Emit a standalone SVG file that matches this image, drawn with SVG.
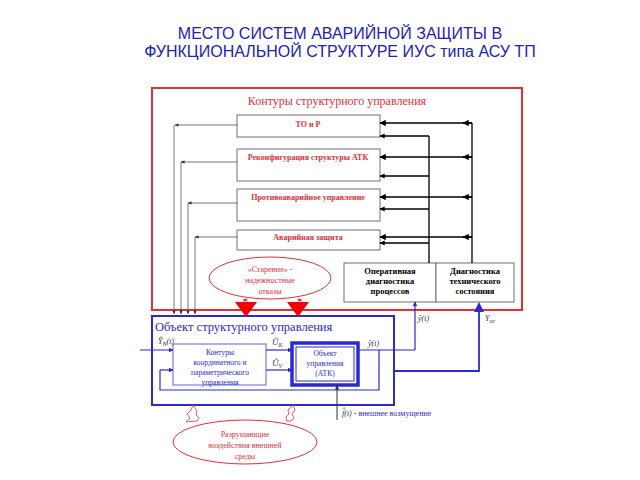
<svg xmlns="http://www.w3.org/2000/svg" width="640" height="480" viewBox="0 0 640 480">
<defs>
<style>
.t{font-family:"Liberation Serif",serif}
.red{fill:#e0303a}
.blu{fill:#2a2ad0}
.box{fill:#fff;stroke:#707070;stroke-width:1}
.k{stroke:#000;fill:none}
.g{stroke:#555;fill:none;stroke-width:0.8}
.b{stroke:#2a2ad0;fill:none;stroke-width:1.2}
</style>
<marker id="ak" viewBox="0 0 10 10" refX="9" refY="5" markerWidth="4" markerHeight="4" orient="auto"><path d="M0,0L10,5L0,10z" fill="#000"/></marker>
<marker id="as" viewBox="0 0 10 10" refX="9" refY="5" markerWidth="5" markerHeight="5" orient="auto"><path d="M0,1L10,5L0,9z" fill="#333"/></marker>
<marker id="ab" viewBox="0 0 10 10" refX="9" refY="5" markerWidth="4" markerHeight="4" orient="auto"><path d="M0,0L10,5L0,10z" fill="#2a2ad0"/></marker>
</defs>
<g id="title" fill="#2222b8" font-family="Liberation Sans,sans-serif" font-size="16" text-anchor="middle">
<text x="340" y="39">МЕСТО СИСТЕМ АВАРИЙНОЙ ЗАЩИТЫ В</text>
<text x="340" y="57">ФУНКЦИОНАЛЬНОЙ СТРУКТУРЕ ИУС типа АСУ ТП</text>
</g>
<g id="red-frame">
<rect x="152" y="88" width="370" height="222" fill="#fff" stroke="#e03038" stroke-width="2"/>
<text class="t red" x="337" y="105" font-size="12" text-anchor="middle">Контуры структурного управления</text>
</g>
<g id="n-tor"><rect class="box" x="237" y="115" width="143" height="22"/><text class="t red" x="308" y="127" font-size="8" font-weight="bold" text-anchor="middle">ТО и Р</text></g>
<g id="n-rekonf"><rect class="box" x="237" y="149" width="143" height="32"/><text class="t red" x="308" y="160" font-size="8" font-weight="bold" text-anchor="middle">Реконфигурация структуры АТК</text></g>
<g id="n-protiv"><rect class="box" x="237" y="189" width="143" height="32"/><text class="t red" x="308" y="200" font-size="8" font-weight="bold" text-anchor="middle">Противоаварийное управление</text></g>
<g id="n-avar"><rect class="box" x="237" y="230" width="143" height="20"/><text class="t red" x="308" y="240" font-size="8" font-weight="bold" text-anchor="middle">Аварийная защита</text></g>
<g id="n-oper"><rect class="box" x="344" y="263" width="92" height="39"/><text class="t" x="390" y="274" font-size="8.5" font-weight="bold" text-anchor="middle"><tspan x="390">Оперативная</tspan><tspan x="390" dy="10">диагностика</tspan><tspan x="390" dy="10">процессов</tspan></text></g>
<g id="n-diag"><rect class="box" x="436" y="263" width="78" height="39"/><text class="t" x="475" y="274" font-size="8.5" font-weight="bold" text-anchor="middle"><tspan x="475">Диагностика</tspan><tspan x="475" dy="10">технического</tspan><tspan x="475" dy="10">состояния</tspan></text></g>
<g id="n-starenie"><ellipse cx="270" cy="278" rx="61" ry="21" fill="#fff" stroke="#e03038"/><text class="t red" x="270" y="272" font-size="8" text-anchor="middle"><tspan x="270">«Старение» -</tspan><tspan x="270" dy="11">надежностные</tspan><tspan x="270" dy="11">отказы</tspan></text></g>
<g id="n-blue-frame"><rect x="152" y="316" width="242" height="89" fill="#fff" stroke="#2a2ad0" stroke-width="2"/><text class="t blu" x="155" y="331" font-size="12.5">Объект структурного управления</text></g>
<g id="n-kontury"><rect x="173" y="344" width="93" height="41" fill="#fff" stroke="#6060e0" stroke-width="1"/><text class="t blu" x="220" y="355" font-size="7.5" text-anchor="middle"><tspan x="220">Контуры</tspan><tspan x="220" dy="10">координатного и</tspan><tspan x="220" dy="10">параметрического</tspan><tspan x="220" dy="10">управления</tspan></text></g>
<g id="n-object"><rect x="292" y="343" width="66" height="42" fill="#fff" stroke="#2a2ad0" stroke-width="3.5"/><rect x="296" y="347" width="58" height="34" fill="#fff" stroke="#2a2ad0" stroke-width="1"/><text class="t blu" x="325" y="356" font-size="7.5" text-anchor="middle"><tspan x="325">Объект</tspan><tspan x="325" dy="10">управления</tspan><tspan x="325" dy="10">(АТК)</tspan></text></g>
<g id="n-razr"><ellipse cx="245" cy="442" rx="72" ry="22" fill="#fff" stroke="#e03038"/><text class="t red" x="245" y="437" font-size="8" text-anchor="middle"><tspan x="245">Разрушающие</tspan><tspan x="245" dy="11">воздействия внешней</tspan><tspan x="245" dy="11">среды</tspan></text></g>
<g id="connectors">
<path class="k" stroke-width="1.3" d="M472,123V263M429,136V263"/>
<path class="k" stroke-width="1.6" marker-end="url(#ak)" d="M472,123H380"/>
<path class="k" stroke-width="1.6" marker-end="url(#ak)" d="M472,157H380"/>
<path class="k" stroke-width="1.6" marker-end="url(#ak)" d="M472,197H380"/>
<path class="k" stroke-width="1.6" marker-end="url(#ak)" d="M472,237H380"/>
<path class="k" stroke-width="1.6" marker-end="url(#ak)" d="M472,123H463"/>
<path class="k" stroke-width="1.6" marker-end="url(#ak)" d="M472,157H463"/>
<path class="k" stroke-width="1.6" marker-end="url(#ak)" d="M472,197H463"/>
<path class="k" stroke-width="1.6" marker-end="url(#ak)" d="M472,237H463"/>
<path class="k" stroke-width="1.3" marker-end="url(#ak)" d="M429,136H380"/>
<path class="k" stroke-width="1.3" marker-end="url(#ak)" d="M429,176H380"/>
<path class="k" stroke-width="1.3" marker-end="url(#ak)" d="M429,209H380"/>
<path class="k" stroke-width="1.3" marker-end="url(#ak)" d="M429,243H380"/>
<path class="g" marker-end="url(#as)" d="M237,125H175"/>
<path class="g" marker-end="url(#as)" d="M237,162H181"/>
<path class="g" marker-end="url(#as)" d="M237,203H188"/>
<path class="g" marker-end="url(#as)" d="M237,237H195"/>
<path class="g" marker-end="url(#as)" d="M174,125V314"/>
<path class="g" marker-end="url(#as)" d="M181,162V314"/>
<path class="g" marker-end="url(#as)" d="M188,203V314"/>
<path class="g" marker-end="url(#as)" d="M195,237V314"/>
<path d="M245,299L248,312M300,299L297,312" stroke="#e03038" stroke-width="4" fill="none" stroke-dasharray="2 1"/>
<path d="M235,302L257,302L246,317z" fill="#f00000"/>
<path d="M287,302L309,302L298,317z" fill="#f00000"/>
<path d="M186,422L190,418L187,414L191,410L193,405L197,411L196,415L199,418L197,421z" fill="#fff" stroke="#e03038" stroke-width="0.8"/>
<path d="M287,421L286,417L289,414L288,410L293,405L295,410L292,414L294,418L291,421z" fill="#fff" stroke="#e03038" stroke-width="0.8"/>
<path class="b" marker-end="url(#ab)" d="M140,350H173"/>
<path class="b" marker-end="url(#ab)" d="M266,350H292"/>
<path class="b" marker-end="url(#ab)" d="M266,370H292"/>
<path class="b" d="M358,350H415"/>
<path class="b" marker-end="url(#ab)" d="M415,350V302"/>
<path class="b" d="M379,350V390H160V370"/>
<path class="b" marker-end="url(#ab)" d="M160,370H173"/>
<path stroke="#2a2ad0" stroke-width="1.8" fill="none" d="M394,371H479V310"/>
<path d="M474,312L479,302L484,312z" fill="#2a2ad0"/>
<path stroke="#333" stroke-width="1" fill="none" marker-end="url(#as)" d="M337,420V385"/>
</g>
<g id="labels" class="t" font-size="8" font-style="italic">
<text x="158" y="344" fill="#333">Ŷ<tspan font-size="6" dy="2">N</tspan><tspan dy="-2">(t)</tspan></text>
<text x="272" y="345" fill="#333" font-size="9">Û<tspan font-size="6" dy="2">K</tspan></text>
<text x="272" y="366" fill="#333" font-size="9">Û<tspan font-size="6" dy="2">V</tspan></text>
<text x="368" y="346" fill="#333">ŷ(t)</text>
<text x="418" y="321" fill="#333">ŷ(t)</text>
<text x="485" y="321" fill="#333">Y<tspan font-size="6" dy="2">ос</tspan></text>
<text x="342" y="416" fill="#333">f̂(t) <tspan class="blu" font-style="normal">- внешнее возмущение</tspan></text>
</g>
</svg>
